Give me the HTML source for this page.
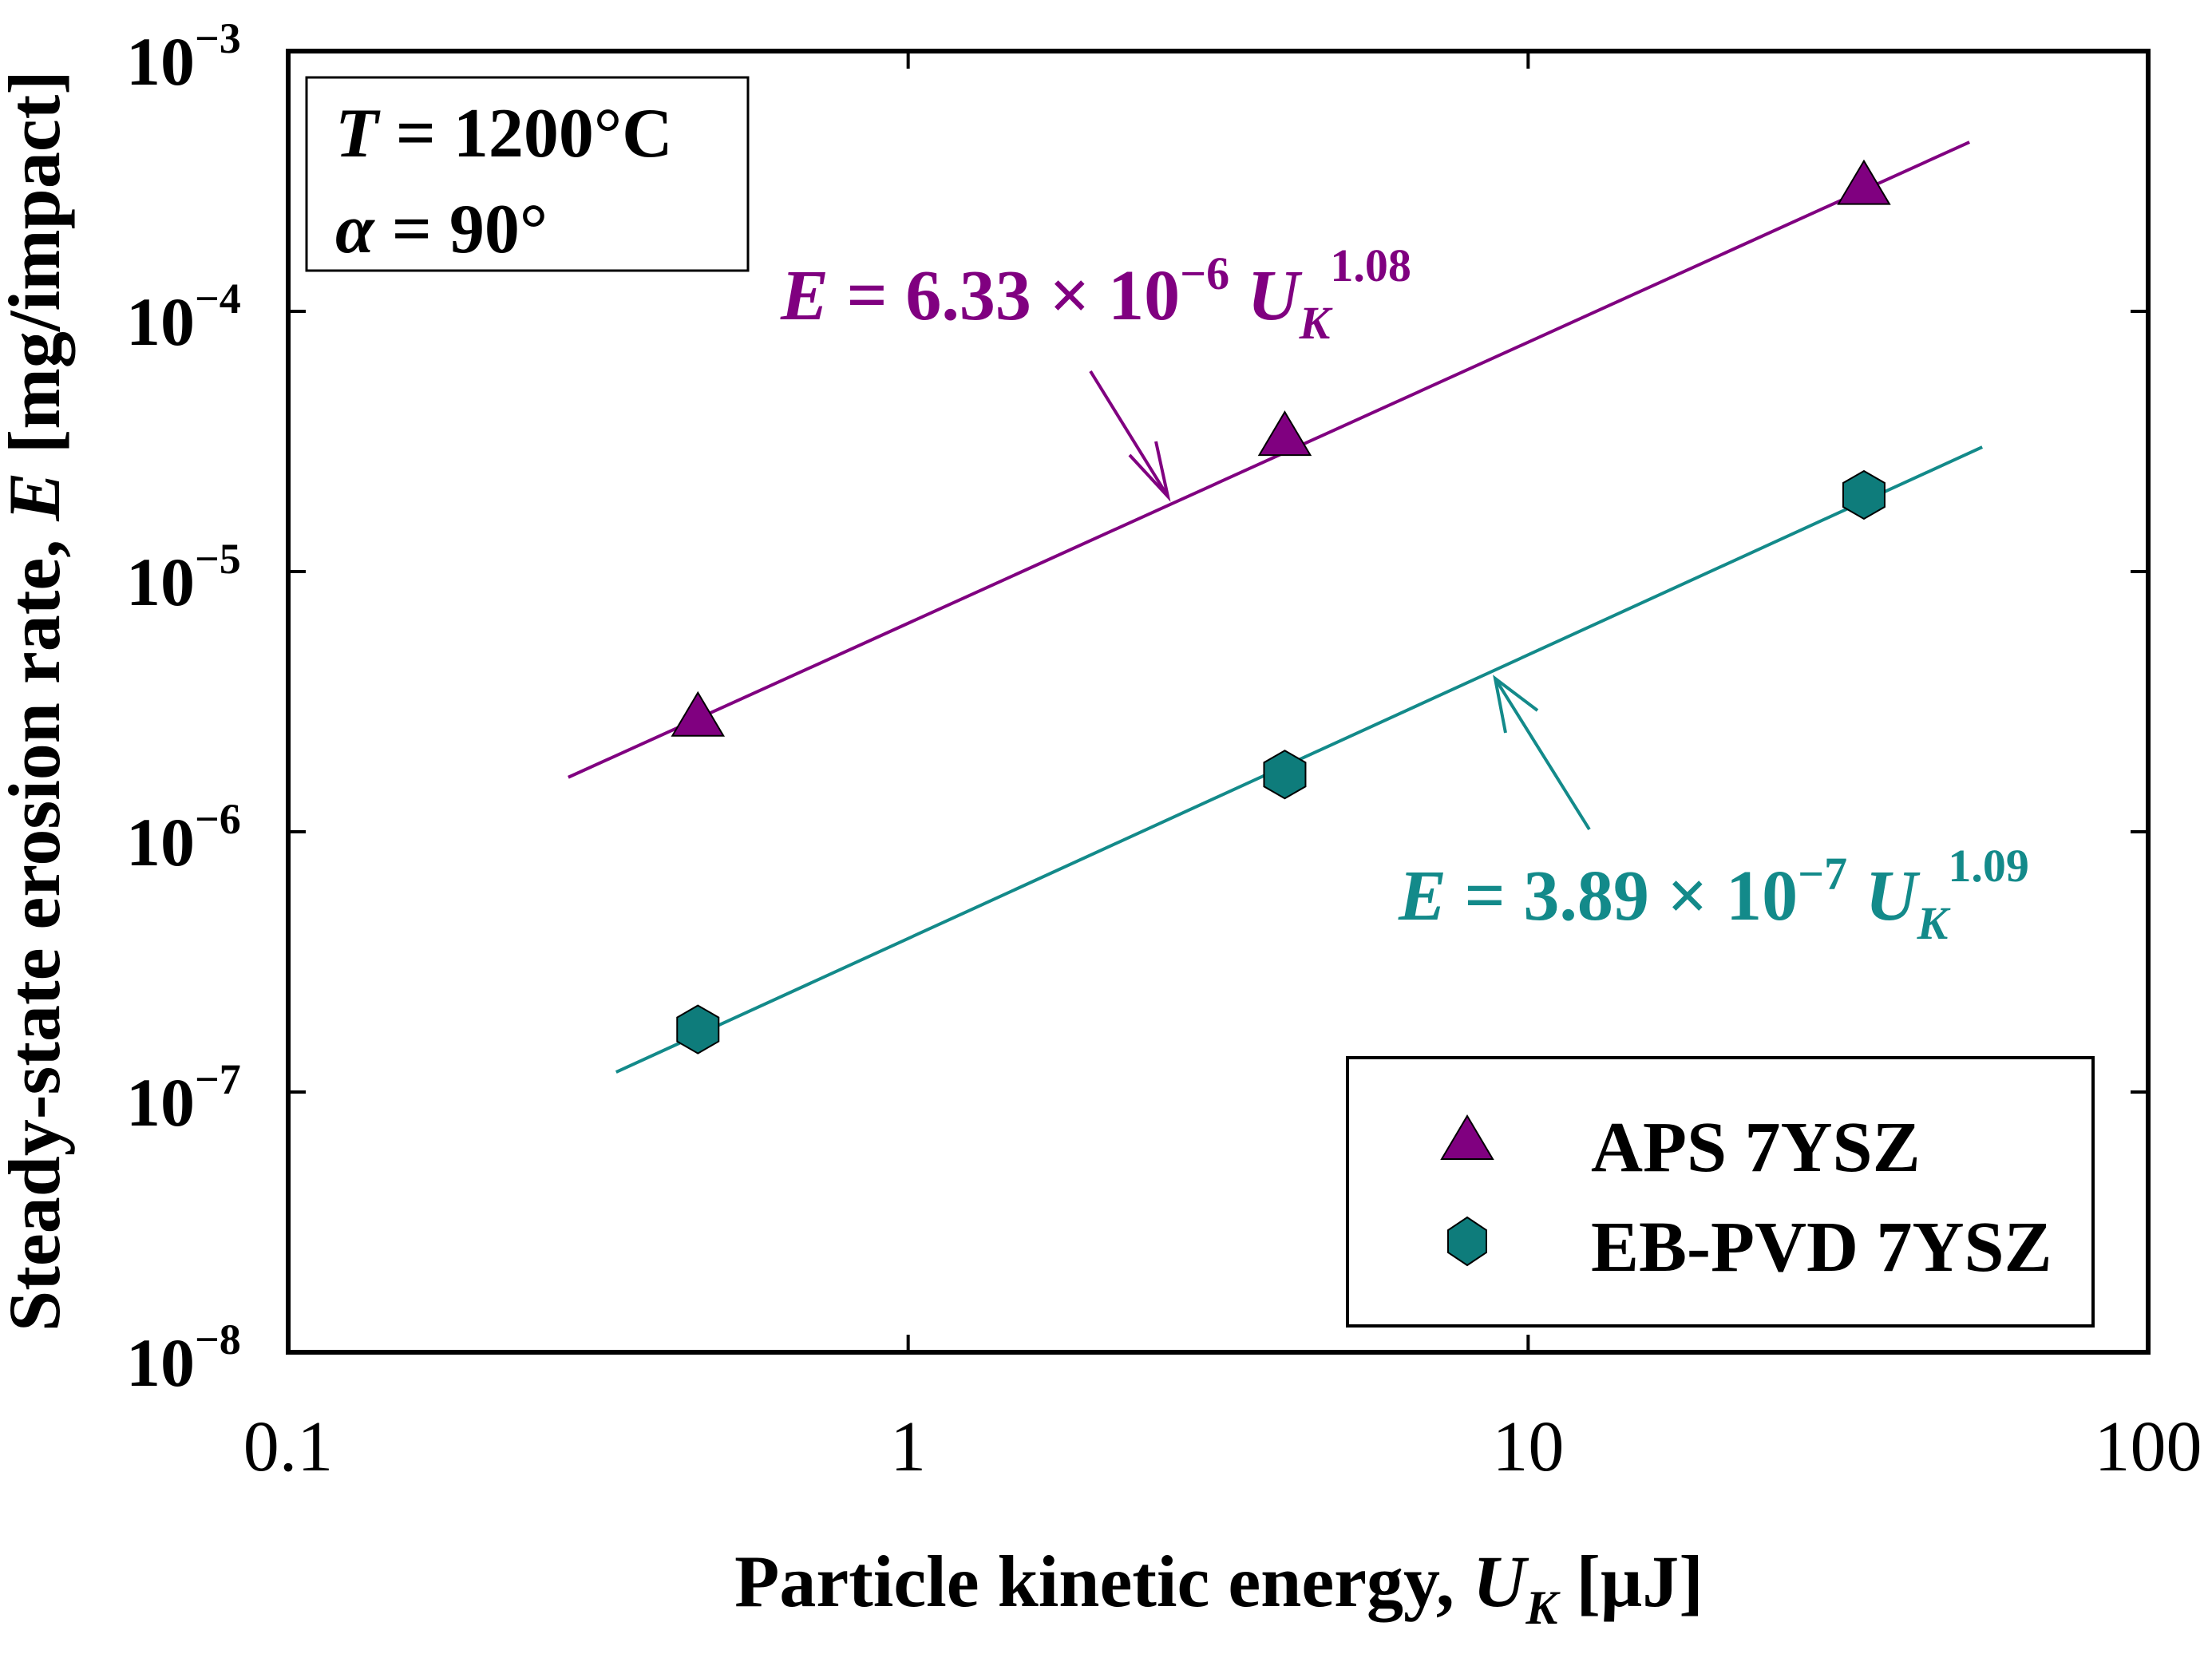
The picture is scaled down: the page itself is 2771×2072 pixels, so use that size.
<!DOCTYPE html>
<html><head><meta charset="utf-8"><style>
html,body{margin:0;padding:0;background:#fff;}
svg{display:block;font-family:"Liberation Serif",serif;}
</style></head><body>
<svg id="chart" width="2771" height="2072" viewBox="0 0 2771 2072" xmlns="http://www.w3.org/2000/svg">
<g id="marks"></g>
<rect x="361" y="64" width="2330" height="1630" fill="none" stroke="#000" stroke-width="6"/>
<g id="ticks"></g>
<g>
<rect x="384" y="97" width="553" height="242" fill="none" stroke="#000" stroke-width="3"/>
<text x="420" y="196" font-size="88" font-weight="bold"><tspan font-style="italic">T</tspan> = 1200°C</text>
<text x="420" y="316" font-size="88" font-weight="bold"><tspan font-style="italic">α</tspan> = 90°</text>
</g>
<text x="978" y="400" font-size="90" font-weight="bold" fill="#800080"><tspan font-style="italic">E</tspan> = 6.33 × 10<tspan font-size="58" dy="-38">−6</tspan><tspan dy="38" font-style="italic"> U</tspan><tspan font-size="58" dy="24" font-style="italic">K</tspan><tspan font-size="58" dy="-72">1.08</tspan></text>
<text x="1752" y="1152" font-size="90" font-weight="bold" fill="#138a8a"><tspan font-style="italic">E</tspan> = 3.89 × 10<tspan font-size="58" dy="-38">−7</tspan><tspan dy="38" font-style="italic"> U</tspan><tspan font-size="58" dy="24" font-style="italic">K</tspan><tspan font-size="58" dy="-72">1.09</tspan></text>
<g stroke="#800080" stroke-width="4" fill="none">
<line x1="1366" y1="465" x2="1463" y2="622"/>
<polyline points="1415,570 1463,622 1448,553"/>
</g>
<g stroke="#138a8a" stroke-width="4" fill="none">
<line x1="1991" y1="1039" x2="1873" y2="850"/>
<polyline points="1926,890 1873,850 1886,918"/>
</g>
<g>
<rect x="1688" y="1325" width="934" height="336" fill="#fff" stroke="#000" stroke-width="4"/>
<polygon points="1838,1398 1870,1452 1806,1452" fill="#800080" stroke="#000" stroke-width="2"/>
<text x="1993" y="1467" font-size="90" font-weight="bold">APS 7YSZ</text>
<polygon points="1838,1525 1862,1541 1862,1569 1838,1585 1814,1569 1814,1541" fill="#0e7c7b" stroke="#000" stroke-width="2"/>
<text x="1993" y="1592" font-size="90" font-weight="bold">EB-PVD 7YSZ</text>
</g>
<text x="1527" y="2012" font-size="92" font-weight="bold" text-anchor="middle">Particle kinetic energy, <tspan font-style="italic">U</tspan><tspan font-style="italic" font-size="60" dy="22">K</tspan><tspan dy="-22"> [μJ]</tspan></text>
<text transform="translate(74,878) rotate(-90)" font-size="92" font-weight="bold" text-anchor="middle">Steady-state erosion rate, <tspan font-style="italic">E</tspan> [mg/impact]</text>
</svg>
<script>
const xTicks=[0.1,1,10,100];
const xTickLabels=["0.1","1","10","100"];
const yTicks=[-3,-4,-5,-6,-7,-8];
const apsX=[0.458,4.05,34.8];
const apsY=[2.77e-6,3.32e-5,3.06e-4];
const ebX=[0.458,4.05,34.8];
const ebY=[1.74e-7,1.66e-6,1.97e-5];
const apsFit=[6.33e-6,1.08,0.283,51.5];
const ebFit=[3.89e-7,1.09,0.338,54];
const L=361,R=2691,T=64,B=1694;
function sx(v){return L+(Math.log10(v)+1)/3*(R-L);}
function sy(v){return T+(-3-Math.log10(v))/5*(B-T);}
const NS="http://www.w3.org/2000/svg";
function mk(tag,attrs,parent){const e=document.createElementNS(NS,tag);for(const k in attrs)e.setAttribute(k,attrs[k]);parent.appendChild(e);return e;}
const marks=document.getElementById('marks'),ticks=document.getElementById('ticks');
xTicks.forEach((v,i)=>{const x=sx(v);
 let t=mk('line',{x1:x,y1:B,x2:x,y2:B-22,stroke:'#000','stroke-width':4},ticks);
 
 t=mk('line',{x1:x,y1:T,x2:x,y2:T+22,stroke:'#000','stroke-width':4},ticks);
 
 const l=mk('text',{x:x,y:1842,'font-size':90,'text-anchor':'middle'},ticks);l.textContent=xTickLabels[i];
 });
yTicks.forEach(p=>{const y=sy(Math.pow(10,p));
 let t=mk('line',{x1:L,y1:y,x2:L+22,y2:y,stroke:'#000','stroke-width':4},ticks);
 
 t=mk('line',{x1:R,y1:y,x2:R-22,y2:y,stroke:'#000','stroke-width':4},ticks);
 
 const l=mk('text',{x:158,y:y+42,'font-size':86,'font-weight':'bold'},ticks);
 
 l.innerHTML='10<tspan font-size="54" dy="-40">−'+(-p)+'</tspan>';});
function fit(f,color,name){const a=f[0],b=f[1];
 const ln=mk('line',{x1:sx(f[2]),y1:sy(a*Math.pow(f[2],b)),x2:sx(f[3]),y2:sy(a*Math.pow(f[3],b)),stroke:color,'stroke-width':4},marks);
 }
fit(apsFit,'#800080','aps-fit-line');
fit(ebFit,'#138a8a','ebpvd-fit-line');
apsX.forEach((v,i)=>{const x=sx(v),y=sy(apsY[i]);
 const p=mk('polygon',{points:`${x},${y-30} ${x+32},${y+24} ${x-32},${y+24}`,fill:'#800080',stroke:'#000','stroke-width':2},marks);
 });
ebX.forEach((v,i)=>{const x=sx(v),y=sy(ebY[i]);
 const p=mk('polygon',{points:`${x},${y-30} ${x+26},${y-15} ${x+26},${y+15} ${x},${y+30} ${x-26},${y+15} ${x-26},${y-15}`,fill:'#0e7c7b',stroke:'#000','stroke-width':2},marks);
 });
</script>
</body></html>
